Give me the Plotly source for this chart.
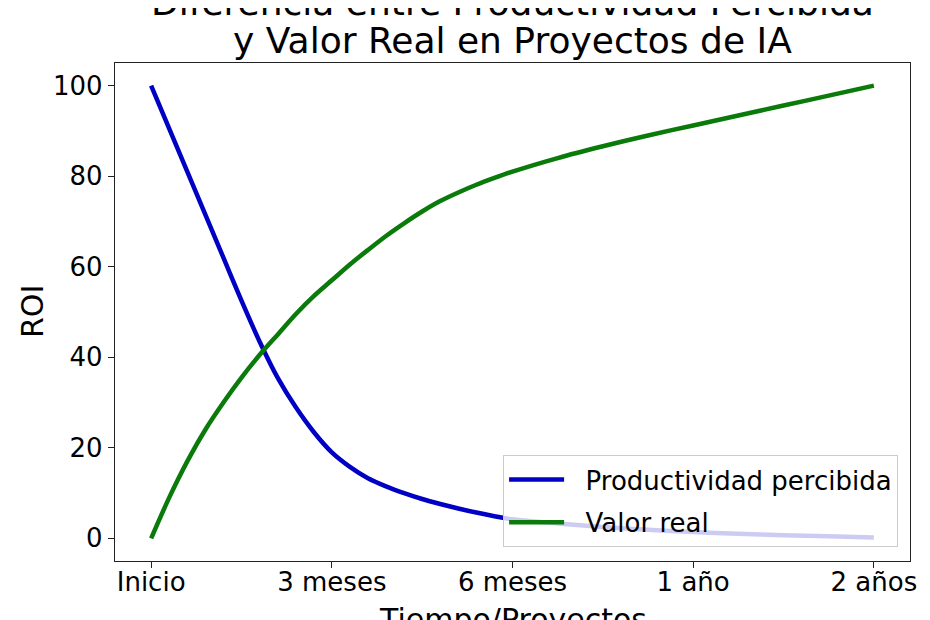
import plotly.graph_objects as go

# ---------------- data ----------------
x_pos = [0, 0.1, 0.2, 0.3, 0.4, 0.5, 0.6, 0.7, 0.8, 0.9, 1.0,
         1.1, 1.2, 1.3, 1.4, 1.5, 1.6, 1.7, 1.8, 1.9, 2.0,
         2.25, 2.5, 2.75, 3.0, 3.25, 3.5, 3.75, 4.0]
productividad_percibida = [100, 90.5, 81, 71.5, 62, 52.5, 43.5, 35.5, 29, 23.5, 19,
                           15.8, 13.3, 11.5, 10, 8.7, 7.6, 6.6, 5.7, 4.9, 4.2,
                           3.3, 2.5, 1.9, 1.4, 1.0, 0.7, 0.45, 0.2]
valor_real = [0, 9, 17, 24, 30, 35.5, 40.5, 45, 49.5, 53.5, 57,
              60.5, 63.7, 66.8, 69.6, 72.2, 74.5, 76.4, 78.1, 79.6, 81,
              84, 86.6, 89, 91.2, 93.4, 95.6, 97.8, 100]
tick_pos = [0, 1, 2, 3, 4]
tick_labels = ['Inicio', '3 meses', '6 meses', '1 año', '2 años']
title_lines = ['Diferencia entre Productividad Percibida', 'y Valor Real en Proyectos de IA']

FONT = 'DejaVu Sans'

# ---------------- traces ----------------
trace0 = go.Scatter(x=x_pos, y=productividad_percibida, mode='lines',
                    name='\u00a0\u00a0Productividad percibida', legendgroup='a',
                    line=dict(color='#0000c4', width=4.5, shape='spline', smoothing=0.8))
trace1 = go.Scatter(x=x_pos, y=valor_real, mode='lines',
                    name='\u00a0\u00a0Valor real', legendgroup='b',
                    line=dict(color='#0a7a0a', width=4.5, shape='spline', smoothing=0.8))

axis_style = dict(showline=True, mirror=True, linecolor='#222222', linewidth=1.3,
                  ticks='outside', ticklen=6, tickwidth=1.2, tickcolor='#222222',
                  showgrid=False, zeroline=False, automargin=False,
                  tickfont=dict(family=FONT, size=26, color='black'))

title_font = dict(family=FONT, size=36, color='black')
label_font = dict(family=FONT, size=30, color='black')

# page body has an 8px margin, so the figure margins are shifted by that
layout = go.Layout(
    width=930, height=620,
    margin=dict(l=107, r=28, t=55, b=67),
    paper_bgcolor='white', plot_bgcolor='white',
    font=dict(family=FONT, color='black'),
    showlegend=True,
    xaxis=dict(range=[-0.2, 4.2], tickvals=tick_pos, ticktext=tick_labels,
               ticklabelstandoff=-8, **axis_style),
    yaxis=dict(range=[-5, 105], dtick=20, **axis_style),
    legend=dict(x=0.985, xanchor='right', y=0.028, yanchor='bottom',
                bgcolor='rgba(255,255,255,0.8)', bordercolor='#cccccc', borderwidth=1,
                font=dict(family=FONT, size=26), tracegroupgap=6, traceorder='grouped',
                itemwidth=55),
    annotations=[
        dict(text=title_lines[0], xref='paper', yref='paper', x=0.5, y=1,
             xanchor='center', yanchor='bottom', yshift=38, showarrow=False, font=title_font),
        dict(text=title_lines[1], xref='paper', yref='paper', x=0.5, y=1,
             xanchor='center', yanchor='bottom', yshift=0, showarrow=False, font=title_font),
        dict(text='Tiempo/Proyectos', xref='paper', yref='paper', x=0.5, y=0,
             xanchor='center', yanchor='top', yshift=-39, showarrow=False, font=label_font),
        dict(text='ROI', xref='paper', yref='paper', x=0, y=0.5, textangle=-90,
             xanchor='center', yanchor='middle', xshift=-83, showarrow=False, font=label_font),
    ],
)

fig = go.Figure(data=[trace0, trace1], layout=layout)
fig.write_html('out.html')
